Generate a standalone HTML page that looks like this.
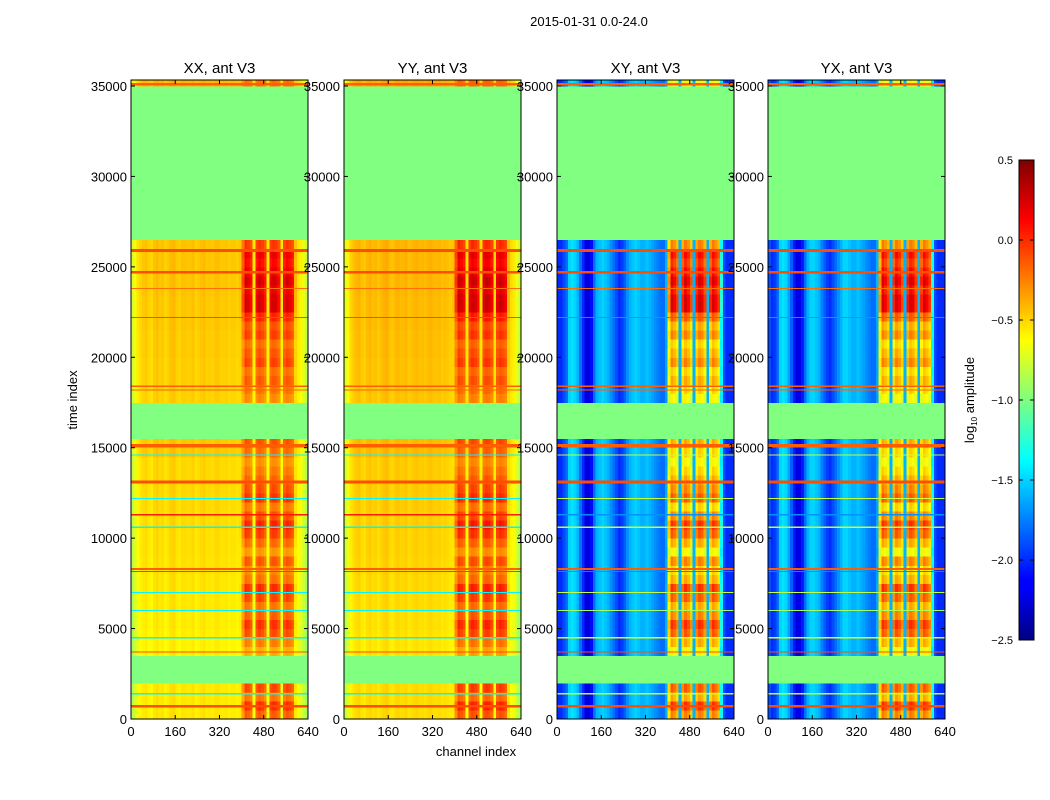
<!DOCTYPE html>
<html><head><meta charset="utf-8">
<style>
html,body{margin:0;padding:0;background:#fff;}
svg{display:block;font-family:"Liberation Sans",sans-serif;}
</style></head>
<body>
<svg id="chart" width="1050" height="800" viewBox="0 0 1050 800" xmlns="http://www.w3.org/2000/svg">
<rect width="1050" height="800" fill="#fff"/>
<text x="589" y="26" font-size="13" text-anchor="middle">2015-01-31 0.0-24.0</text>
<text x="476" y="756" font-size="13" text-anchor="middle">channel index</text>
<text transform="translate(77,400) rotate(-90)" font-size="13" text-anchor="middle">time index</text>
<g id="panels"></g>
<defs>
<linearGradient id="jetgrad" x1="0" y1="1" x2="0" y2="0">
<stop offset="0" stop-color="#00007f"/><stop offset="0.11" stop-color="#0000ff"/><stop offset="0.125" stop-color="#0000ff"/>
<stop offset="0.375" stop-color="#00ffff"/><stop offset="0.5" stop-color="#7fff7f"/><stop offset="0.625" stop-color="#ffff00"/>
<stop offset="0.875" stop-color="#ff0000"/><stop offset="1" stop-color="#7f0000"/>
</linearGradient>
</defs>
<g id="colorbar">
<rect x="1019" y="160" width="15" height="480" fill="url(#jetgrad)" stroke="#000" stroke-width="1"/>
<text transform="translate(974,400) rotate(-90)" font-size="13" text-anchor="middle">log<tspan font-size="8" dy="3">10</tspan><tspan dy="-3"> amplitude</tspan></text>
</g>
</svg>
<script>
const NS='http://www.w3.org/2000/svg';
// ---- data ----
const titles=['XX, ant V3','YY, ant V3','XY, ant V3','YX, ant V3'];
const xTicks=[0,160,320,480,640];
const yTicks=[0,5000,10000,15000,20000,25000,30000,35000];
const cbTicks=[0.5,0.0,-0.5,-1.0,-1.5,-2.0,-2.5];
const rowSize=500;
// flagged (1) or data (0) per 500-sample time row
const rowFlag=[0,0,0,0,1,1,1,0,0,0,0,0,0,0,0,0,0,0,0,0,0,0,0,0,0,0,0,0,0,0,0,1,1,1,1,0,0,0,0,0,0,0,0,0,0,0,0,0,0,0,0,0,0,1,1,1,1,1,1,1,1,1,1,1,1,1,1,1,1,1,0];
// blob strength per time row
const rowBlob=[0.6,0.8,0.5,0.7,0,0,0,0.3,0.5,0.7,0.8,0.6,0.5,0.7,0.8,0.5,0.4,0.6,0.3,0.5,0.7,0.8,0.6,0.4,0.7,0.6,0.5,0.4,0.3,0.4,0.5,0,0,0,0,0.3,0.4,0.5,0.4,0.6,0.5,0.4,0.6,0.5,0.7,1.0,1.0,0.9,1.0,0.9,0.8,0.9,0.6,0,0,0,0,0,0,0,0,0,0,0,0,0,0,0,0,0,0.3];
// row level offset (parallel pols)
const rowOffset=[-0.05,-0.05,-0.05,-0.05,0,0,0,-0.08,-0.08,-0.07,-0.06,-0.06,-0.05,-0.05,-0.04,-0.04,-0.03,-0.03,-0.02,-0.02,-0.02,-0.01,-0.01,0,0,0,0,0,0,0.05,0.05,0,0,0,0,0.02,0.02,0.03,0.03,0.03,0.04,0.04,0.04,0.05,0.05,0.05,0.05,0.06,0.06,0.06,0.06,0.06,0.06,0,0,0,0,0,0,0,0,0,0,0,0,0,0,0,0,0,0.1];
// per-channel mask (10-channel bins) for the bright blobs
const blobMask=[0,0,0,0,0,0,0,0,0,0,0,0,0,0,0,0,0,0,0,0,0,0,0,0,0,0,0,0,0,0,0,0,0,0,0,0,0,0,0,0.1,
 0.6,1.0,0.95,0.85,0,0.9,1.0,0.95,0.8,0,0.95,1.0,1.0,0.85,0,0.9,1.0,0.95,0.85,0.2,0,0,0,0];
const chXX=[-0.8,-0.7,-0.6,-0.55,-0.52,-0.5,-0.54,-0.57,-0.5,-0.48,-0.52,-0.5,-0.55,-0.52,-0.48,-0.47,-0.52,-0.54,-0.5,-0.5,
 -0.52,-0.51,-0.49,-0.54,-0.52,-0.5,-0.48,-0.52,-0.51,-0.53,-0.5,-0.49,-0.52,-0.52,-0.51,-0.54,-0.52,-0.52,-0.54,-0.56,
 -0.55,-0.5,-0.52,-0.54,-0.62,-0.52,-0.5,-0.52,-0.54,-0.62,-0.52,-0.5,-0.52,-0.54,-0.62,-0.52,-0.5,-0.52,-0.54,-0.6,-0.6,-0.65,-0.75,-0.85];
const chYY=[-0.75,-0.65,-0.55,-0.5,-0.47,-0.45,-0.5,-0.52,-0.47,-0.45,-0.49,-0.47,-0.51,-0.48,-0.45,-0.43,-0.49,-0.51,-0.47,-0.45,
 -0.48,-0.47,-0.45,-0.5,-0.48,-0.46,-0.45,-0.48,-0.47,-0.49,-0.46,-0.45,-0.48,-0.48,-0.47,-0.5,-0.48,-0.5,-0.52,-0.56,
 -0.5,-0.46,-0.48,-0.5,-0.58,-0.48,-0.46,-0.48,-0.5,-0.58,-0.48,-0.46,-0.48,-0.5,-0.58,-0.48,-0.46,-0.48,-0.5,-0.58,-0.58,-0.62,-0.72,-0.82];
const chXY=[-2.0,-2.0,-1.9,-1.8,-1.5,-1.45,-1.5,-1.6,-1.8,-2.0,-2.2,-2.25,-2.1,-1.8,-1.6,-1.55,-1.5,-1.55,-1.6,-1.7,
 -1.8,-1.9,-2.0,-1.95,-1.85,-1.7,-1.6,-1.55,-1.5,-1.55,-1.6,-1.6,-1.55,-1.6,-1.65,-1.7,-1.75,-1.8,-1.8,-1.7,
 -1.0,-0.95,-1.0,-1.05,-1.6,-1.05,-0.95,-1.0,-1.05,-1.6,-1.05,-0.95,-1.0,-1.05,-1.6,-1.05,-0.95,-1.0,-1.05,-1.5,-1.9,-2.0,-2.0,-2.0];
const chYX=[-1.9,-2.0,-1.95,-1.8,-1.5,-1.45,-1.5,-1.65,-1.85,-2.05,-2.2,-2.2,-2.05,-1.8,-1.6,-1.5,-1.5,-1.55,-1.6,-1.75,
 -1.85,-1.95,-2.0,-1.9,-1.8,-1.7,-1.6,-1.5,-1.5,-1.55,-1.6,-1.6,-1.55,-1.6,-1.65,-1.7,-1.75,-1.8,-1.8,-1.7,
 -1.0,-0.95,-1.0,-1.05,-1.6,-1.05,-0.95,-1.0,-1.05,-1.6,-1.05,-0.95,-1.0,-1.05,-1.6,-1.05,-0.95,-1.0,-1.05,-1.5,-1.9,-2.0,-2.0,-2.0];
const blobScale=[0.7,0.7,1.2,1.2];
// horizontal line features: time, value (parallel), value (cross), thickness in samples
const lineT=[700,1400,3700,4500,6000,7000,8150,8300,10600,11300,12200,13100,14600,15100,18200,18400,22200,23800,24700,25900,35100];
const lineVPar=[-0.1,-1.4,-0.1,-1.4,-1.4,-1.4,-0.05,-0.15,-1.4,0.05,-1.4,-0.1,-1.4,-0.15,-0.15,-0.15,-0.1,-0.2,-0.1,-0.1,-0.15];
const lineVCross=[-0.1,-0.8,-0.1,-0.7,-0.9,-0.8,-0.05,-0.15,-0.8,-1.7,-0.8,-0.1,-0.8,-0.15,-0.15,-0.15,-0.1,-0.2,-0.1,-0.1,-0.15];
const lineW=[150,80,60,80,60,60,60,100,60,80,60,150,60,200,60,60,80,40,150,150,150];

// ---- axes ----
const panelX=[131,344,557,768], PW=177, PT=80, PB=719;
const tMax=(PB-PT)/((PB-86)/35000);
const chs=[chXX,chYY,chXY,chYX];
function xS(p,c){return panelX[p]+c*PW/640;}
function yS(t){return PB-t*(PB-PT)/tMax;}
function cbY(v){return 160+(0.5-v)*480/3;}
function jet(v){let x=(v+2.5)/3;x=Math.max(0,Math.min(1,x));
 const f=a=>Math.round(255*Math.max(0,Math.min(1,1.5-Math.abs(4*x-a))));
 return `rgb(${f(3)},${f(2)},${f(1)})`;}
function el(tag,attrs,parent){const e=document.createElementNS(NS,tag);for(const k in attrs)e.setAttribute(k,attrs[k]);parent.appendChild(e);return e;}

const root=document.getElementById('panels');
for(let p=0;p<4;p++){
 const g=el('g',{},root);
 
 
 const hm=el('g',{'shape-rendering':'crispEdges'},g);
 
 
 const cross=p>=2;
 for(let r=0;r<rowFlag.length;r++){
  const t0=r*rowSize, t1=Math.min((r+1)*rowSize,tMax);
  if(t0>=tMax)break;
  const y0=yS(t1), y1=yS(t0);
  if(rowFlag[r]){
   const c=el('rect',{x:xS(p,0),y:y0,width:PW,height:y1-y0+0.5,fill:jet(-1.0)},hm);
   
   
   continue;
  }
  for(let b=0;b<64;b++){
   const v=chs[p][b]+(cross?0:rowOffset[r])+rowBlob[r]*blobScale[p]*blobMask[b];
   const c=el('rect',{x:xS(p,b*10),y:y0,width:PW/64+0.5,height:y1-y0+0.5,fill:jet(v)},hm);
   
   
  }
 }
 for(let i=0;i<lineT.length;i++){
  const y0=yS(lineT[i]+lineW[i]/2), y1=yS(lineT[i]-lineW[i]/2);
  const l=el('rect',{x:xS(p,0),y:y0,width:PW,height:Math.max(1,y1-y0),fill:jet(cross?lineVCross[i]:lineVPar[i])},hm);
  
  
 }
 const fr=el('rect',{x:panelX[p],y:PT,width:PW,height:PB-PT,fill:'none',stroke:'#000','stroke-width':1},g);
 
 
 const tt=el('text',{x:panelX[p]+PW/2,y:PT-7,'font-size':15,'text-anchor':'middle'},g);
 tt.textContent=titles[p];
 
 
 for(const xt of xTicks){
  const x=xS(p,xt);
  const a=el('line',{x1:x,x2:x,y1:PB,y2:PB-4,stroke:'#000'},g);
  
  
  const b=el('line',{x1:x,x2:x,y1:PT,y2:PT+4,stroke:'#000'},g);
  
  
  const lb=el('text',{x:x,y:PB+17,'font-size':13,'text-anchor':'middle'},g);
  lb.textContent=xt;
  
  
 }
 for(const yt of yTicks){
  const y=yS(yt);
  const a=el('line',{x1:panelX[p],x2:panelX[p]+4,y1:y,y2:y,stroke:'#000'},g);
  
  
  const b=el('line',{x1:panelX[p]+PW,x2:panelX[p]+PW-4,y1:y,y2:y,stroke:'#000'},g);
  
  
  const lb=el('text',{x:panelX[p]-4,y:y+5,'font-size':13,'text-anchor':'end'},g);
  lb.textContent=yt;
  
  
 }
}
const cb=document.getElementById('colorbar');
for(const v of cbTicks){
 const y=cbY(v);
 const a=el('line',{x1:1019,x2:1023,y1:y,y2:y,stroke:'#000'},cb);
 
 
 const b=el('line',{x1:1034,x2:1030,y1:y,y2:y,stroke:'#000'},cb);
 
 
 const lb=el('text',{x:1013,y:y+4,'font-size':11,'text-anchor':'end'},cb);
 lb.textContent=(v<0?'\u2212':'')+Math.abs(v).toFixed(1);
 
 
}
</script>
</body></html>
